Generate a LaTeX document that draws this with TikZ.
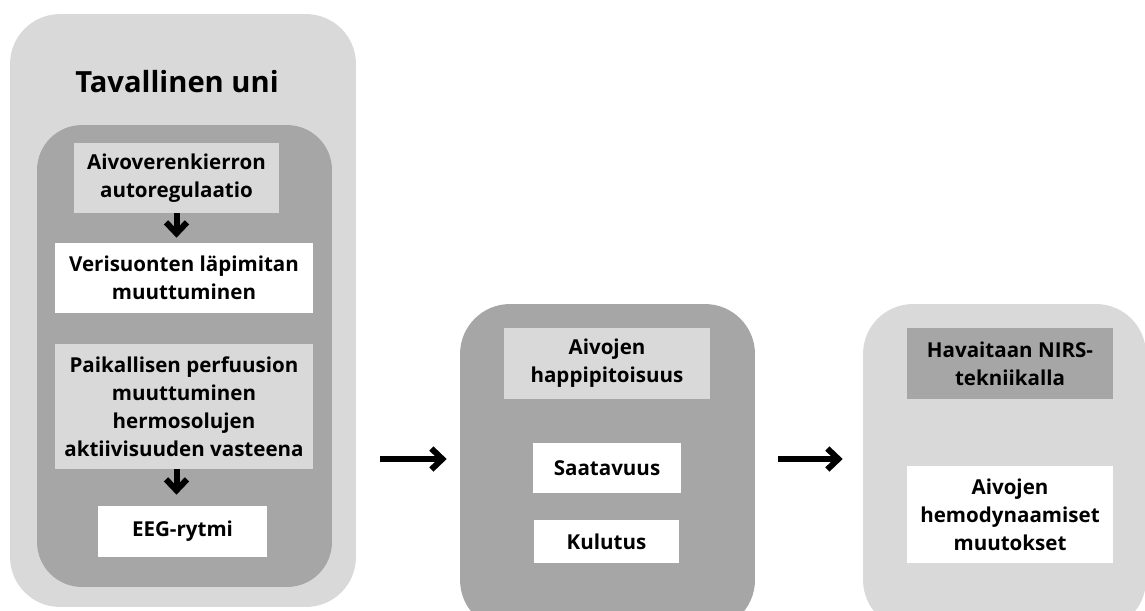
\documentclass[tikz,border=0pt]{standalone}
\usepackage{fontspec}
\setmainfont{Open Sans}
\usepackage{tikz}
\usetikzlibrary{arrows.meta}
\definecolor{palegrey}{HTML}{D9D9D9}
\definecolor{midgrey}{HTML}{A6A6A6}
\tikzset{
  panel/.style={shape=rectangle, rounded corners=1cm, inner sep=0pt},
  item/.style={shape=rectangle, inner sep=0pt, align=center,
    font=\bfseries\fontsize{11.7}{15.9}\selectfont},
  flow/.style={line width=0.12cm, -{Straight Barb[length=0.22cm, width=0.42cm]}}
}
\begin{document}
\begin{tikzpicture}[x=0.02cm, y=-0.02cm]
     \clip (0,0) rectangle (1145,610);

     % vasen paneeli
     \node[panel, fill=palegrey, minimum width=6.92cm, minimum height=11.86cm] (uni) at (183,310.5) {};
     \node[font=\bfseries\fontsize{16.6}{20}\selectfont] (title) at (177,82) {Tavallinen uni};
     \node[panel, fill=midgrey, rounded corners=0.9cm, minimum width=5.9cm, minimum height=9.24cm] (inner) at (184.5,356) {};
     \node[item, fill=palegrey, minimum width=4.1cm, minimum height=1.4cm] (auto) at (176.5,178) {Aivoverenkierron\\autoregulaatio};
     \node[item, fill=white, minimum width=5.16cm, minimum height=1.4cm] (lapim) at (184,278) {Verisuonten läpimitan\\muuttuminen};
     \node[item, fill=palegrey, minimum width=5.16cm, minimum height=2.5cm] (perf) at (184,406.5) {Paikallisen perfuusion\\muuttuminen\\hermosolujen\\aktiivisuuden vasteena};
     \node[item, fill=white, minimum width=3.38cm, minimum height=1.02cm] (eeg) at (182.5,531.5) {EEG-rytmi};

     % keskimmäinen paneeli
     \node[panel, fill=midgrey, minimum width=5.9cm, minimum height=6.52cm] (mid) at (607.5,467) {};
     \node[item, fill=palegrey, minimum width=4.12cm, minimum height=1.42cm] (happi) at (607,363.5) {Aivojen\\happipitoisuus};
     \node[item, fill=white, minimum width=2.96cm, minimum height=1.0cm] (saat) at (607,468) {Saatavuus};
     \node[item, fill=white, minimum width=2.9cm, minimum height=0.86cm] (kul) at (606.5,541.5) {Kulutus};

     % oikea paneeli
     \node[panel, fill=palegrey, minimum width=5.66cm, minimum height=6.52cm] (nirs) at (1004.5,467) {};
     \node[item, fill=midgrey, minimum width=4.12cm, minimum height=1.42cm] (tekn) at (1010,363.5) {Havaitaan NIRS-\\tekniikalla};
     \node[item, fill=white, minimum width=4.12cm, minimum height=1.94cm] (hemo) at (1010,514.5) {Aivojen\\hemodynaamiset\\muutokset};

     % nuolet
     \coordinate (ar) at (0,459);
     \draw[flow, shorten >=0.1cm] (auto.south) -- (auto.south |- lapim.north);
     \draw[flow, shorten >=0.22cm] (auto.south |- perf.south) -- (auto.south |- eeg.north);
     \draw[flow, shorten <=0.48cm, shorten >=0.26cm] (uni.east |- ar) -- (mid.west |- ar);
     \draw[flow, shorten <=0.46cm, shorten >=0.4cm] (mid.east |- ar) -- (nirs.west |- ar);
\end{tikzpicture}
\end{document}
